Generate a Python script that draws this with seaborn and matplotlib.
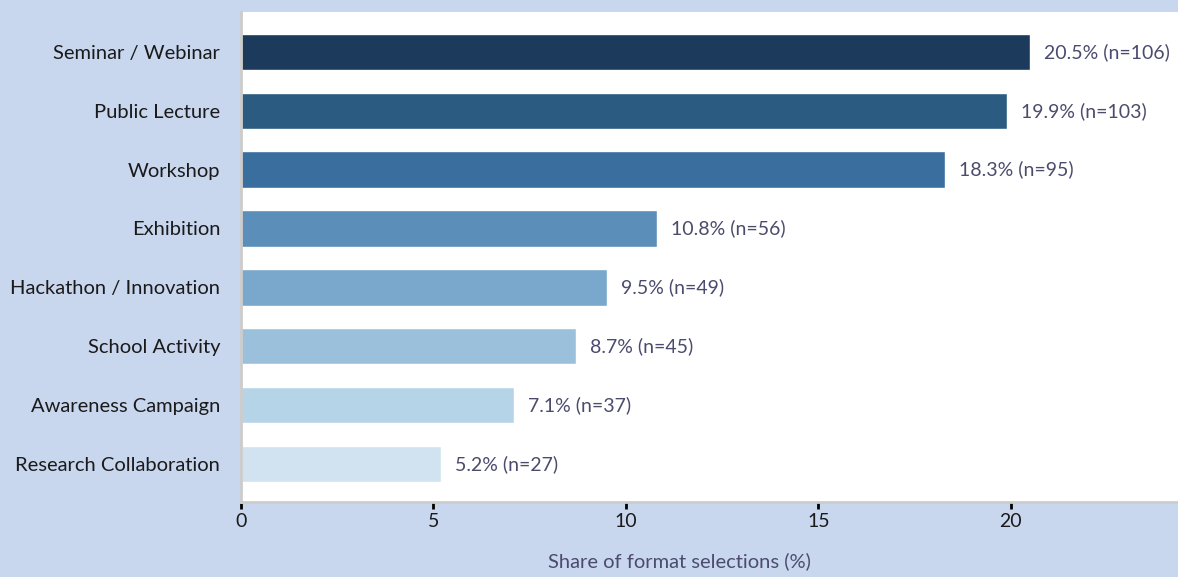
import matplotlib
matplotlib.use("Agg")
import matplotlib.pyplot as plt
import seaborn as sns
import pandas as pd

formats = ["Seminar / Webinar", "Public Lecture", "Workshop", "Exhibition",
           "Hackathon / Innovation", "School Activity", "Awareness Campaign",
           "Research Collaboration"]
share_pct = [20.5, 19.9, 18.3, 10.8, 9.5, 8.7, 7.1, 5.2]
counts = [106, 103, 95, 56, 49, 45, 37, 27]
bar_colors = ["#1b3a5c", "#2b5b80", "#3a6e9f", "#5b8eb9",
              "#7aa8cc", "#9bc0dc", "#b6d4e8", "#d1e3f0"]
x_ticks = [0, 5, 10, 15, 20]

df = pd.DataFrame({"format": formats, "share": share_pct, "n": counts})

sns.set_theme(style="white")
plt.rcParams["font.family"] = ["Lato", "DejaVu Sans"]

bg = "#c8d6ee"
fig = plt.figure(figsize=(11.78, 5.77), dpi=100, facecolor=bg)
ax = fig.add_axes([241 / 1178, 75 / 577, (1178 - 241) / 1178, 490 / 577])
ax.set_facecolor("white")

sns.barplot(data=df, y="format", x="share", hue="format", palette=bar_colors,
            legend=False, orient="h", width=0.62, saturation=1, ax=ax)

for i, (v, n) in enumerate(zip(share_pct, counts)):
    ax.text(v + 0.36, i, f"{v}% (n={n})", va="center", ha="left",
            fontsize=14, color="#4b4b6e")

ax.set_xlim(0, 24.34)
ax.set_ylim(7.65, -0.68)
ax.set_xticks(x_ticks)
ax.set_xticklabels([str(t) for t in x_ticks])
ax.tick_params(axis="x", bottom=True, length=5, width=2, color="black",
               labelsize=14, labelcolor="#1a1a1a", pad=3)
ax.tick_params(axis="y", left=False, length=0, labelsize=14.5,
               labelcolor="#1a1a1a", pad=15)

for s in ["top", "right"]:
    ax.spines[s].set_visible(False)
for s in ["left", "bottom"]:
    ax.spines[s].set_color("#cccccc")
    ax.spines[s].set_linewidth(2)

ax.set_ylabel("")
ax.set_xlabel("Share of format selections (%)", fontsize=14.5, color="#4b4b6e")
ax.xaxis.set_label_coords((679 - 241) / (1178 - 241), -50 / 490)

fig.savefig("out.png", dpi=100, facecolor=bg)
